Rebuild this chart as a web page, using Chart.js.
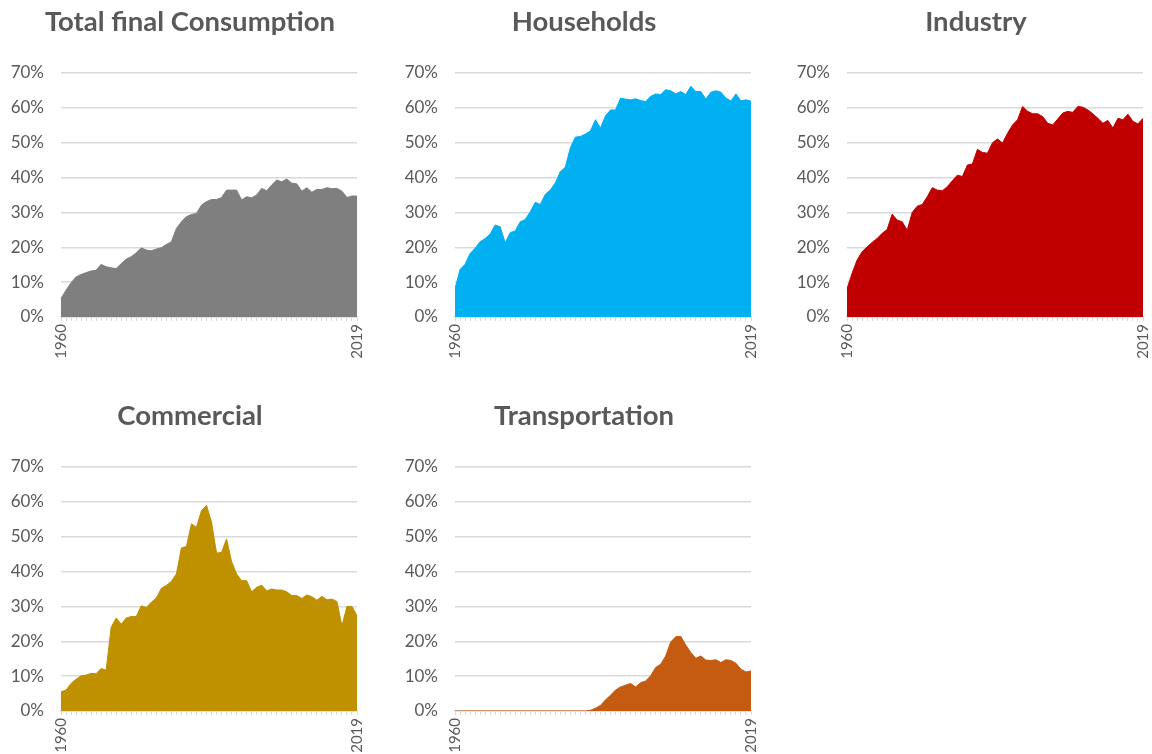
<!DOCTYPE html>
<html>
<head>
<meta charset="utf-8">
<script src="https://cdn.jsdelivr.net/npm/chart.js@4/dist/chart.umd.min.js"></script>
<style>
  html, body { margin: 0; padding: 0; background: #fff; overflow: hidden; }
  body { width: 1152px; height: 754px; position: relative; }
  .cell { position: absolute; width: 380px; height: 372px; }
</style>
</head>
<body>
<div class="cell" style="left:0px;top:0px"><canvas id="c-total"></canvas></div>
<div class="cell" style="left:394px;top:0px"><canvas id="c-households"></canvas></div>
<div class="cell" style="left:786px;top:0px"><canvas id="c-industry"></canvas></div>
<div class="cell" style="left:0px;top:394px"><canvas id="c-commercial"></canvas></div>
<div class="cell" style="left:394px;top:394px"><canvas id="c-transport"></canvas></div>

<script>
// years on the category axis, only first and last are labelled
const years = ['1960','1961','1962','1963','1964','1965','1966','1967','1968','1969',
  '1970','1971','1972','1973','1974','1975','1976','1977','1978','1979',
  '1980','1981','1982','1983','1984','1985','1986','1987','1988','1989',
  '1990','1991','1992','1993','1994','1995','1996','1997','1998','1999',
  '2000','2001','2002','2003','2004','2005','2006','2007','2008','2009',
  '2010','2011','2012','2013','2014','2015','2016','2017','2018','2019'];
const shownYears = ['1960', '2019'];
const yTicks = [0, 10, 20, 30, 40, 50, 60, 70];

// shares in %
const totalFinal = [5.3, 7.7, 9.8, 11.5, 12.2, 12.7, 13.2, 13.4, 15.1, 14.4,
  14.1, 13.9, 15.3, 16.6, 17.3, 18.4, 19.8, 19.2, 19.0, 19.5,
  19.9, 20.8, 21.6, 25.4, 27.3, 28.8, 29.4, 29.7, 32.1, 33.1,
  33.7, 33.7, 34.3, 36.4, 36.4, 36.4, 33.6, 34.5, 34.2, 35.0,
  36.9, 36.2, 37.9, 39.3, 38.8, 39.6, 38.4, 38.2, 36.1, 37.1,
  35.8, 36.6, 36.6, 37.1, 36.8, 36.9, 36.1, 34.3, 34.7, 34.7];
const households = [8.1, 13.6, 15.1, 18.2, 19.7, 21.6, 22.5, 23.8, 26.4, 25.9,
  21.3, 24.2, 24.7, 27.3, 28.0, 30.2, 32.9, 32.3, 35.2, 36.4,
  38.5, 41.7, 43.0, 48.6, 51.6, 51.8, 52.5, 53.4, 56.6, 54.2,
  57.7, 59.4, 59.4, 62.8, 62.5, 62.3, 62.6, 62.1, 61.8, 63.3,
  64.0, 63.8, 65.2, 64.9, 64.0, 64.7, 63.8, 66.2, 64.7, 64.7,
  62.5, 64.5, 64.9, 64.5, 62.8, 62.0, 64.0, 62.0, 62.3, 61.9];
const industry = [8.1, 12.5, 16.3, 18.7, 20.1, 21.4, 22.5, 24.0, 25.1, 29.5,
  27.8, 27.3, 24.9, 30.0, 31.8, 32.3, 34.5, 37.1, 36.4, 36.2,
  37.4, 39.1, 40.7, 40.3, 43.6, 43.9, 48.1, 47.2, 47.0, 50.0,
  51.1, 49.9, 52.7, 55.1, 56.6, 60.4, 59.0, 58.3, 58.3, 57.5,
  55.6, 55.1, 56.8, 58.5, 59.0, 58.7, 60.4, 60.2, 59.4, 58.3,
  57.0, 55.6, 56.4, 54.2, 57.0, 56.6, 58.2, 56.1, 55.4, 57.0];
const commercial = [5.5, 6.0, 7.9, 9.1, 10.1, 10.3, 10.8, 10.7, 12.2, 11.7,
  24.0, 26.7, 24.9, 26.7, 27.1, 27.1, 30.2, 29.7, 31.2, 32.4,
  35.2, 36.0, 37.2, 39.3, 46.8, 47.2, 53.7, 52.7, 57.5, 59.0,
  54.2, 45.3, 45.5, 49.4, 42.9, 39.3, 37.4, 37.4, 34.2, 35.5,
  36.1, 34.5, 35.0, 34.7, 34.7, 34.2, 33.1, 33.1, 32.3, 33.3,
  32.8, 31.8, 32.9, 31.9, 32.1, 31.4, 24.4, 30.0, 30.0, 27.3];
const transportation = [0, 0, 0, 0, 0, 0, 0, 0, 0, 0,
  0, 0, 0, 0, 0, 0, 0, 0, 0, 0,
  0, 0, 0, 0, 0, 0, 0, 0.2, 0.8, 1.6,
  3.2, 4.5, 6.0, 6.9, 7.4, 7.9, 6.9, 8.1, 8.6, 10.1,
  12.5, 13.4, 15.8, 19.8, 21.3, 21.4, 18.9, 16.8, 15.1, 15.8,
  14.6, 14.5, 14.7, 13.9, 14.7, 14.5, 13.7, 12.0, 11.2, 11.5];

const textColor = '#595959';
const gridColor = '#d9d9d9';
const fontFamily = 'Lato, "Open Sans", sans-serif';

function makeChart(id, title, values, color) {
  const ctx = document.getElementById(id).getContext('2d');
  return new Chart(ctx, {
    type: 'line',
    data: {
      labels: years,
      datasets: [{
        data: values,
        fill: 'origin',
        backgroundColor: color,
        borderColor: color,
        borderWidth: 1,
        pointRadius: 0,
        tension: 0
      }]
    },
    options: {
      responsive: true,
      maintainAspectRatio: false,
      animation: false,
      layout: { padding: { left: 10, right: 10, top: 0, bottom: 10 } },
      plugins: {
        legend: { display: false },
        tooltip: { enabled: false },
        title: {
          display: true,
          text: title,
          color: textColor,
          font: { family: fontFamily, size: 27.5, weight: 'bold' },
          padding: { top: 6, bottom: 34 }
        }
      },
      scales: {
        x: {
          offset: false,
          grid: { drawOnChartArea: false, drawTicks: true, tickLength: 4, color: gridColor },
          border: { display: true, color: gridColor, width: 1.5 },
          ticks: {
            autoSkip: false,
            minRotation: 90,
            maxRotation: 90,
            padding: 3,
            color: textColor,
            font: { family: fontFamily, size: 15 },
            callback: function(v, i) {
              const y = years[i];
              return shownYears.includes(y) ? y : '';
            }
          },
          afterFit: function(scale) { scale.height = 45; }
        },
        y: {
          min: 0,
          max: 70,
          border: { display: false },
          grid: { color: gridColor, lineWidth: 1.5, drawTicks: false },
          afterBuildTicks: function(scale) {
            scale.ticks = yTicks.map(function(v) { return { value: v }; });
          },
          ticks: {
            padding: 17,
            color: textColor,
            font: { family: fontFamily, size: 17 },
            callback: function(v) { return v + '%'; }
          },
          afterFit: function(scale) { scale.width = 51; }
        },
        // empty right-hand spacer so the title sits centred like the original
        spacer: {
          type: 'linear',
          position: 'right',
          grid: { display: false },
          border: { display: false },
          ticks: { display: false },
          afterFit: function(scale) { scale.width = 13; }
        }
      }
    }
  });
}

makeChart('c-total', 'Total final Consumption', totalFinal, '#7f7f7f');
makeChart('c-households', 'Households', households, '#00b0f0');
makeChart('c-industry', 'Industry', industry, '#c00000');
makeChart('c-commercial', 'Commercial', commercial, '#bf9000');
makeChart('c-transport', 'Transportation', transportation, '#c55a11');
</script>
</body>
</html>
